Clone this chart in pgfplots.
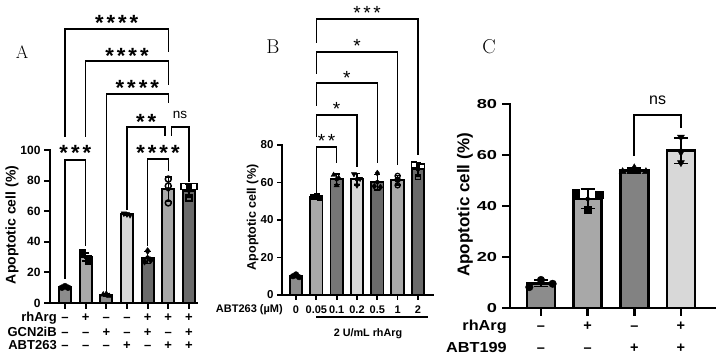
\documentclass[border=0pt]{standalone}
\usepackage{pgfplots}
\pgfplotsset{compat=1.18}
\usepackage{fontspec}
\setsansfont{Liberation Sans}

\definecolor{gMid}{HTML}{8C8C8C}
\definecolor{gLt}{HTML}{A8A8A8}
\definecolor{gPale}{HTML}{D8D8D8}
\definecolor{gDk}{HTML}{6A6A6A}
\definecolor{gMd2}{HTML}{767676}
\definecolor{gMd3}{HTML}{828282}

\newcommand\fs[1]{\fontsize{#1}{#1}\selectfont}
% one sign of the treatment table under a bar
\newcommand\sg[4]{\node[anchor=base, inner sep=0pt, font=\sffamily\bfseries\fs{#4}] at (axis cs:#1,#2) {#3};}

\pgfplotsset{
  panel/.style={
    scale only axis, anchor=south west, clip=false,
    axis lines=left, axis line style={-, line width=#1, line cap=rect},
    tick align=outside, major tick length=6pt,
    tick style={black, line width=#1},
    ymin=0,
    /pgf/number format/assume math mode=true,
    every axis y label/.style={rotate=90, anchor=center},
  },
  bar/.style={ybar, bar shift=0pt, draw=black},
  pts/.style={only marks, black},
  errs/.style 2 args={only marks, mark=none, black, forget plot,
    error bars/.cd, y dir=both, y explicit,
    error bar style={line width=#1, black},
    error mark options={rotate=90, mark size=#2, line width=#1, black}},
}

\begin{document}
\begin{tikzpicture}
\useasboundingbox (0,0) rectangle (724pt,361pt);

% ---------------- Panel A ----------------
\node[font=\rmfamily\fs{18}] at (22pt,309pt) {A};
\begin{axis}[panel=2pt, at={(50pt,58pt)}, width=147pt, height=153pt,
  xmin=-0.726, xmax=6.39, ymax=100,
  ytick={0,20,...,100}, xtick={0,...,6}, xticklabels={}, major tick length=6pt,
  yticklabel style={font=\sffamily\bfseries\fs{12}},
  ylabel={Apoptotic cell (\%)},
  ylabel style={at={(axis description cs:-0.259,0.51)}, font=\sffamily\bfseries\fs{14}}]
\addplot[bar, bar width=12pt, line width=2pt, fill=gMid]  coordinates {(0,10.3)};
\addplot[bar, bar width=12pt, line width=2pt, fill=gLt]   coordinates {(1,30)};
\addplot[bar, bar width=12pt, line width=2pt, fill=gMid]  coordinates {(2,5.2)};
\addplot[bar, bar width=12pt, line width=2pt, fill=gPale] coordinates {(3,58)};
\addplot[bar, bar width=12pt, line width=2pt, fill=gDk]   coordinates {(4,29.7)};
\addplot[bar, bar width=12pt, line width=2pt, fill=gLt]   coordinates {(5,74.3)};
\addplot[bar, bar width=12pt, line width=2pt, fill=gDk]   coordinates {(6,73.5)};
\addplot[errs={1.5pt}{3.5pt}] coordinates {
  (0,10.3) +- (0,0.6) (1,30) +- (0,2.6) (2,5.2) +- (0,0.8) (3,58) +- (0,0.5)
  (4,29.7) +- (0,3.8) (5,74.3) +- (0,8) (6,73.5) +- (0,4.3)};
\addplot[pts, mark=*, mark size=3pt] coordinates {(-0.15,10) (0,11) (0.15,10)};
\addplot[pts, mark=square*, mark size=3pt] coordinates {(0.85,33) (1.12,29.5) (1.12,27.5)};
\addplot[pts, mark=triangle*, mark size=3.2pt] coordinates {(1.85,5.5) (2,6) (2.15,4.5)};
\addplot[pts, mark=triangle*, mark size=3.2pt, mark options={rotate=180}] coordinates {(2.85,58.5) (3,58) (3.15,57.5)};
\addplot[pts, mark=diamond*, mark size=3.4pt] coordinates {(4,34) (3.85,27) (4.15,28)};
\addplot[pts, mark=o, mark size=3pt, mark options={fill=gLt, line width=1.5pt}] coordinates {(5,81) (5,76.5) (5,65.4)};
\addplot[pts, mark=square, mark size=3pt, mark options={fill=white, line width=1.5pt}] coordinates {(5.76,76) (6.24,76) (6,68.5)};
% comparison brackets
\begin{scope}[line width=1.5pt]
\draw (axis cs:0,108.5) |- (axis cs:5,179.1) -- (axis cs:5,164.1);
\draw (axis cs:1,108.5) |- (axis cs:5,158.2) -- (axis cs:5,142.5);
\draw (axis cs:2,8) |- (axis cs:5,136.6) -- (axis cs:5,130.7);
\draw (axis cs:3,61) |- (axis cs:4.85,115) -- (axis cs:4.85,109.2);
\draw (axis cs:5.15,109.2) |- (axis cs:6,115) -- (axis cs:6,79);
\draw (axis cs:0,16) |- (axis cs:1,93.5) -- (axis cs:1,37);
\draw (axis cs:4,37) |- (axis cs:5,94.1) -- (axis cs:5,86);
\end{scope}
\begin{scope}[every node/.style={anchor=base, inner sep=0pt, font=\sffamily\bfseries\fs{22}}]
\node at (axis cs:2.5,177.9) {*\kern3pt*\kern3pt*\kern3pt*};
\node at (axis cs:3,156.3) {*\kern3pt*\kern3pt*\kern3pt*};
\node at (axis cs:3.5,135.4) {*\kern3pt*\kern3pt*\kern3pt*};
\node at (axis cs:3.93,113.2) {*\kern3pt*};
\node at (axis cs:0.5,92.9) {*\kern3pt*\kern3pt*};
\node at (axis cs:4.5,92.9) {*\kern3pt*\kern3pt*\kern3pt*};
\end{scope}
\node[anchor=base, inner sep=0pt, font=\sffamily\fs{13.5}] at (axis cs:5.57,120.5) {ns};
% treatment table
\begin{scope}[every node/.style={anchor=base east, inner sep=0pt, font=\sffamily\bfseries\fs{13}}]
\node at (axis cs:-0.39,-11.8) {rhArg};
\node at (axis cs:-0.39,-21.6) {GCN2iB};
\node at (axis cs:-0.39,-30.1) {ABT263};
\end{scope}
\sg{0}{-11.8}{–}{13}\sg{1}{-11.8}{+}{13}\sg{2}{-11.8}{–}{13}\sg{3}{-11.8}{–}{13}\sg{4}{-11.8}{+}{13}\sg{5}{-11.8}{+}{13}\sg{6}{-11.8}{+}{13}
\sg{0}{-21.6}{–}{13}\sg{1}{-21.6}{–}{13}\sg{2}{-21.6}{+}{13}\sg{3}{-21.6}{–}{13}\sg{4}{-21.6}{+}{13}\sg{5}{-21.6}{–}{13}\sg{6}{-21.6}{+}{13}
\sg{0}{-30.1}{–}{13}\sg{1}{-30.1}{–}{13}\sg{2}{-30.1}{–}{13}\sg{3}{-30.1}{+}{13}\sg{4}{-30.1}{–}{13}\sg{5}{-30.1}{+}{13}\sg{6}{-30.1}{+}{13}
\end{axis}

% ---------------- Panel B ----------------
\node[font=\rmfamily\fs{20}] at (273pt,314pt) {B};
\begin{axis}[panel=1.7pt, at={(282pt,66pt)}, width=151pt, height=150pt,
  xmin=-0.69, xmax=6.74, ymax=80, major tick length=5pt,
  ytick={0,20,...,80}, xtick={0,...,6},
  xticklabels={0,0.05,0.1,0.2,0.5,1,2},
  xticklabel style={anchor=north, inner sep=0pt, yshift=-6pt, font=\sffamily\bfseries\fs{11}},
  yticklabel style={font=\sffamily\bfseries\fs{11.5}},
  ylabel={Apoptotic cell (\%)},
  ylabel style={at={(axis description cs:-0.195,0.517)}, font=\sffamily\bfseries\fs{12.5}}]
\addplot[bar, bar width=12.5pt, line width=1.8pt, fill=gMid]  coordinates {(0,10)};
\addplot[bar, bar width=12.5pt, line width=1.8pt, fill=gLt]   coordinates {(1,52.5)};
\addplot[bar, bar width=12.5pt, line width=1.8pt, fill=gMd2]  coordinates {(2,61.7)};
\addplot[bar, bar width=12.5pt, line width=1.8pt, fill=gPale] coordinates {(3,61.7)};
\addplot[bar, bar width=12.5pt, line width=1.8pt, fill=gDk]   coordinates {(4,60.2)};
\addplot[bar, bar width=12.5pt, line width=1.8pt, fill=gLt]   coordinates {(5,61.2)};
\addplot[bar, bar width=12.5pt, line width=1.8pt, fill=gDk]   coordinates {(6,67)};
\addplot[errs={1.3pt}{3pt}] coordinates {
  (0,10) +- (0,0.75) (1,52.5) +- (0,0.5) (2,61.7) +- (0,2.8) (3,61.7) +- (0,3)
  (4,60.2) +- (0,4.2) (5,61.2) +- (0,2.5) (6,67) +- (0,3.5)};
\addplot[pts, mark=*, mark size=2.8pt] coordinates {(-0.15,10) (0,11) (0.15,9.5)};
\addplot[pts, mark=square*, mark size=2.6pt] coordinates {(0.85,52.5) (1,53) (1.15,52)};
\addplot[pts, mark=triangle*, mark size=3pt] coordinates {(1.85,64) (2.1,62.5) (2,58.5)};
\addplot[pts, mark=triangle*, mark size=3pt, mark options={rotate=180}] coordinates {(2.85,64.5) (3.15,62) (3,58.5)};
\addplot[pts, mark=diamond*, mark size=3pt] coordinates {(4,65) (3.85,58) (4.15,57.5)};
\addplot[pts, mark=o, mark size=2.6pt, mark options={fill=gLt, line width=1.3pt}] coordinates {(5,63.5) (5,61.5) (5,58.5)};
\addplot[pts, mark=square, mark size=2.6pt, mark options={fill=white, line width=1.3pt}] coordinates {(5.8,69.5) (6.2,68.5) (6,63)};
\begin{scope}[line width=1.2pt]
\draw (axis cs:1,134.4) |- (axis cs:6,147.2) -- (axis cs:6,74.7);
\draw (axis cs:1,117.9) |- (axis cs:5,129.6) -- (axis cs:5,69.3);
\draw (axis cs:1,100.8) |- (axis cs:4,113.1) -- (axis cs:4,70.4);
\draw (axis cs:1,84.3) |- (axis cs:3,96) -- (axis cs:3,68.3);
\draw (axis cs:1,54.4) |- (axis cs:2,78.9) -- (axis cs:2,70.4);
\end{scope}
\begin{scope}[every node/.style={anchor=base, inner sep=0pt, font=\sffamily\fs{19}}]
\node at (axis cs:3.5,146.7) {*\kern2.6pt*\kern2.6pt*};
\node at (axis cs:3,129.1) {*};
\node at (axis cs:2.5,112.5) {*};
\node at (axis cs:2,95.5) {*};
\node at (axis cs:1.5,78.4) {*\kern2.6pt*};
\end{scope}
\node[anchor=base east, inner sep=0pt, font=\sffamily\bfseries\fs{11}] at (axis cs:-0.64,-9.6) {ABT263 (µM)};
\draw[line width=1.8pt] (axis cs:1,-11.7) -- (axis cs:6.49,-11.7);
\node[anchor=base, inner sep=0pt, font=\sffamily\bfseries\fs{10.8}] at (axis cs:3.54,-22.4) {2 U/mL rhArg};
\end{axis}

% ---------------- Panel C ----------------
\node[font=\rmfamily\fs{20}] at (489pt,314pt) {C};
\begin{axis}[panel=2.5pt, at={(510pt,53pt)}, width=205pt, height=204pt,
  xmin=-0.664, xmax=3.73, ymax=80, major tick length=8pt,
  ytick={0,20,...,80}, xtick={0,...,3}, xticklabels={},
  yticklabel style={font=\sffamily\bfseries\fs{13}, xscale=1.4},
  ylabel={Apoptotic cell (\%)},
  ylabel style={at={(axis description cs:-0.22,0.505)}, font=\sffamily\bfseries\fs{17}}]
\addplot[bar, bar width=28pt, line width=2.5pt, fill=gMid]  coordinates {(0,9.7)};
\addplot[bar, bar width=28pt, line width=2.5pt, fill=gLt]   coordinates {(1,42.8)};
\addplot[bar, bar width=28pt, line width=2.5pt, fill=gMd3]  coordinates {(2,54)};
\addplot[bar, bar width=28pt, line width=2.5pt, fill=gPale] coordinates {(3,61.7)};
\addplot[errs={1.8pt}{7pt}] coordinates {
  (0,9.7) +- (0,1.3) (1,42.8) +- (0,3.8) (2,54) +- (0,1) (3,61.7) +- (0,5)};
\addplot[pts, mark=*, mark size=3.8pt] coordinates {(-0.25,8.2) (0,11) (0.25,9.5)};
\addplot[pts, mark=square*, mark size=3.6pt] coordinates {(0.75,45) (1.25,44.5) (1,38.5)};
\addplot[pts, mark=triangle*, mark size=4pt] coordinates {(1.75,53.5) (2,55) (2.25,53.5)};
\addplot[pts, mark=triangle*, mark size=4pt, mark options={rotate=180}] coordinates {(3,67) (3,61) (3,57)};
\draw[line width=1.8pt] (axis cs:2,59.6) |- (axis cs:3,75.7) -- (axis cs:3,70.6);
\node[anchor=base, inner sep=0pt, font=\sffamily\fs{16}] at (axis cs:2.5,79.9) {ns};
\begin{scope}[every node/.style={anchor=base east, inner sep=0pt, font=\sffamily\bfseries\fs{14.5}, xscale=1.12}]
\node at (axis cs:-0.73,-9.0) {rhArg};
\node at (axis cs:-0.73,-17.3) {ABT199};
\end{scope}
\sg{0}{-9.0}{–}{14.5}\sg{1}{-9.0}{+}{14.5}\sg{2}{-9.0}{–}{14.5}\sg{3}{-9.0}{+}{14.5}
\sg{0}{-17.3}{–}{14.5}\sg{1}{-17.3}{–}{14.5}\sg{2}{-17.3}{+}{14.5}\sg{3}{-17.3}{+}{14.5}
\end{axis}
\end{tikzpicture}
\end{document}
